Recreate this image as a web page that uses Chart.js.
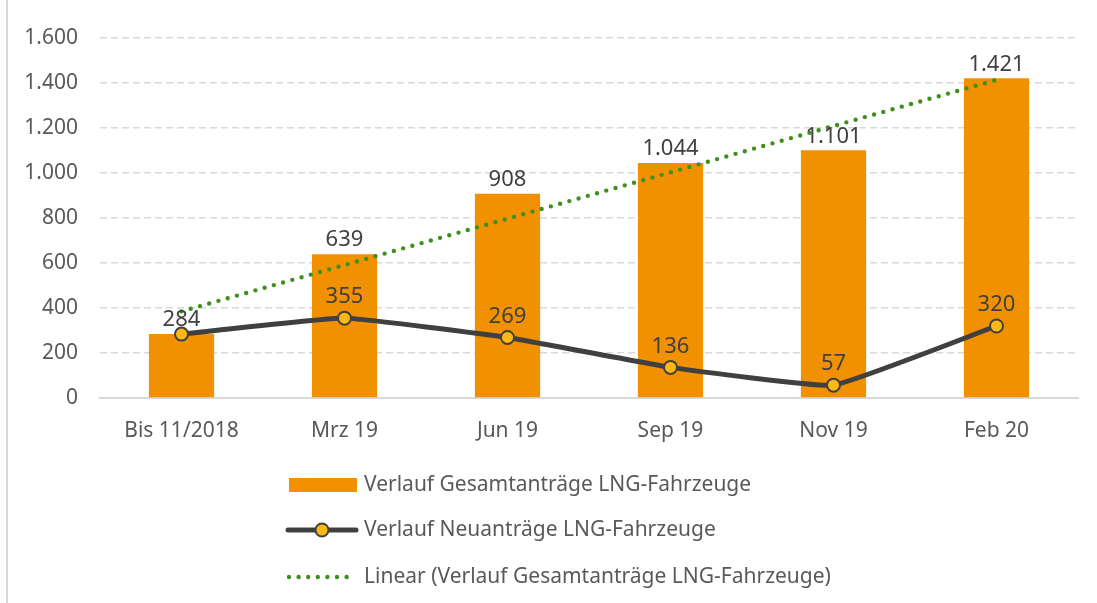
<!DOCTYPE html>
<html>
<head>
<meta charset="utf-8">
<script src="https://cdn.jsdelivr.net/npm/chart.js@4/dist/chart.umd.min.js"></script>
<style>
  html, body { margin: 0; padding: 0; background: #fff; }
  #wrap { width: 1097px; height: 603px; position: relative; }
</style>
</head>
<body>
<div id="wrap"><canvas id="lngChart" width="1097" height="603"></canvas></div>
<script>
// Werte
const categories = ['Bis 11/2018', 'Mrz 19', 'Jun 19', 'Sep 19', 'Nov 19', 'Feb 20'];
const gesamtAntraege = [284, 639, 908, 1044, 1101, 1421];
const neuAntraege = [284, 355, 269, 136, 57, 320];
const linearTrend = [385, 591, 797, 1003, 1209, 1414];
const yTicks = [0, 200, 400, 600, 800, 1000, 1200, 1400, 1600];

const seriesNames = [
    'Verlauf Gesamtanträge LNG-Fahrzeuge',
    'Verlauf Neuanträge LNG-Fahrzeuge',
    'Linear (Verlauf Gesamtanträge LNG-Fahrzeuge)'
];

const FONT = '"Source Sans Pro", "Noto Sans", sans-serif';
const ORANGE = '#F29100';
const DARK = '#404040';
const GREEN = '#3F8F1F';
const MARKER = '#FDB813';
const fmt = v => v.toLocaleString('de-DE');

// 1. Beschriftungen an Balken und Punkten
const valueLabels = {
    id: 'valueLabels',
    afterDatasetsDraw(chart) {
        const ctx = chart.ctx;
        ctx.save();
        ctx.fillStyle = DARK;
        ctx.font = '22px ' + FONT;
        ctx.textAlign = 'center';
        ctx.textBaseline = 'middle';
        chart.getDatasetMeta(0).data.forEach((bar, i) => {
            ctx.fillText(fmt(gesamtAntraege[i]), bar.x, bar.y - 14);
        });
        chart.getDatasetMeta(2).data.forEach((pt, i) => {
            // erster Wert deckt sich mit der Balkenbeschriftung
            if (i === 0) return;
            ctx.fillText(fmt(neuAntraege[i]), pt.x, pt.y - 21);
        });
        ctx.restore();
    }
};

// 2. Hintergrund, Rahmen links und Legende (untereinander)
const frameAndLegend = {
    id: 'frameAndLegend',
    beforeDraw(chart) {
        const ctx = chart.ctx;
        ctx.save();
        ctx.fillStyle = '#fff';
        ctx.fillRect(0, 0, chart.width, chart.height);
        ctx.fillStyle = '#D9D9D9';
        ctx.fillRect(6, 0, 2, chart.height);
        ctx.restore();
    },
    afterDraw(chart) {
        const ctx = chart.ctx;
        ctx.save();
        ctx.font = '21px ' + FONT;
        ctx.textAlign = 'left';
        ctx.textBaseline = 'middle';
        const textX = 364;
        const rows = [485, 530, 577];

        ctx.fillStyle = ORANGE;
        ctx.fillRect(289, 478, 68, 14);

        ctx.strokeStyle = DARK;
        ctx.lineWidth = 5;
        ctx.lineCap = 'round';
        ctx.beginPath();
        ctx.moveTo(288, rows[1]);
        ctx.lineTo(356, rows[1]);
        ctx.stroke();
        ctx.beginPath();
        ctx.arc(322, rows[1], 6.5, 0, Math.PI * 2);
        ctx.fillStyle = MARKER;
        ctx.fill();
        ctx.lineWidth = 2;
        ctx.stroke();

        ctx.fillStyle = GREEN;
        for (let x = 289; x <= 350; x += 9.6) {
            ctx.beginPath();
            ctx.arc(x, rows[2], 2.2, 0, Math.PI * 2);
            ctx.fill();
        }

        ctx.fillStyle = '#595959';
        seriesNames.forEach((name, i) => ctx.fillText(name, textX, rows[i]));
        ctx.restore();
    }
};

const ctx = document.getElementById('lngChart').getContext('2d');
new Chart(ctx, {
    data: {
        labels: categories,
        datasets: [
            {
                type: 'bar',
                label: seriesNames[0],
                data: gesamtAntraege,
                backgroundColor: ORANGE,
                barPercentage: 0.4,
                categoryPercentage: 1,
                order: 3
            },
            {
                type: 'line',
                label: seriesNames[2],
                data: linearTrend,
                borderColor: GREEN,
                borderWidth: 4.4,
                borderDash: [0, 9.6],
                borderCapStyle: 'round',
                pointRadius: 0,
                tension: 0,
                order: 2
            },
            {
                type: 'line',
                label: seriesNames[1],
                data: neuAntraege,
                borderColor: DARK,
                borderWidth: 5,
                tension: 0.1,
                pointRadius: 6.5,
                pointBorderWidth: 2,
                pointBackgroundColor: MARKER,
                pointBorderColor: DARK,
                order: 1
            }
        ]
    },
    options: {
        responsive: false,
        animation: false,
        devicePixelRatio: 1,
        layout: { padding: { left: 8, right: 19, top: 38, bottom: 155 } },
        plugins: {
            legend: { display: false },
            tooltip: { enabled: false }
        },
        scales: {
            x: {
                grid: { display: false },
                border: { display: true, color: '#D9D9D9', width: 2 },
                ticks: { color: '#595959', font: { family: FONT, size: 21 }, padding: 12 },
                afterFit: s => { s.height = 50; }
            },
            y: {
                min: 0,
                max: 1600,
                afterBuildTicks: s => { s.ticks = yTicks.map(v => ({ value: v })); },
                grid: {
                    color: c => c.tick && c.tick.value === 0 ? 'rgba(0,0,0,0)' : '#D9D9D9',
                    lineWidth: 1.5,
                    drawTicks: false
                },
                border: { display: false, dash: [7, 4] },
                ticks: {
                    color: '#595959',
                    font: { family: FONT, size: 21 },
                    padding: 22,
                    callback: v => fmt(v)
                },
                afterFit: s => { s.width = 92; }
            }
        }
    },
    plugins: [valueLabels, frameAndLegend]
});
</script>
</body>
</html>
